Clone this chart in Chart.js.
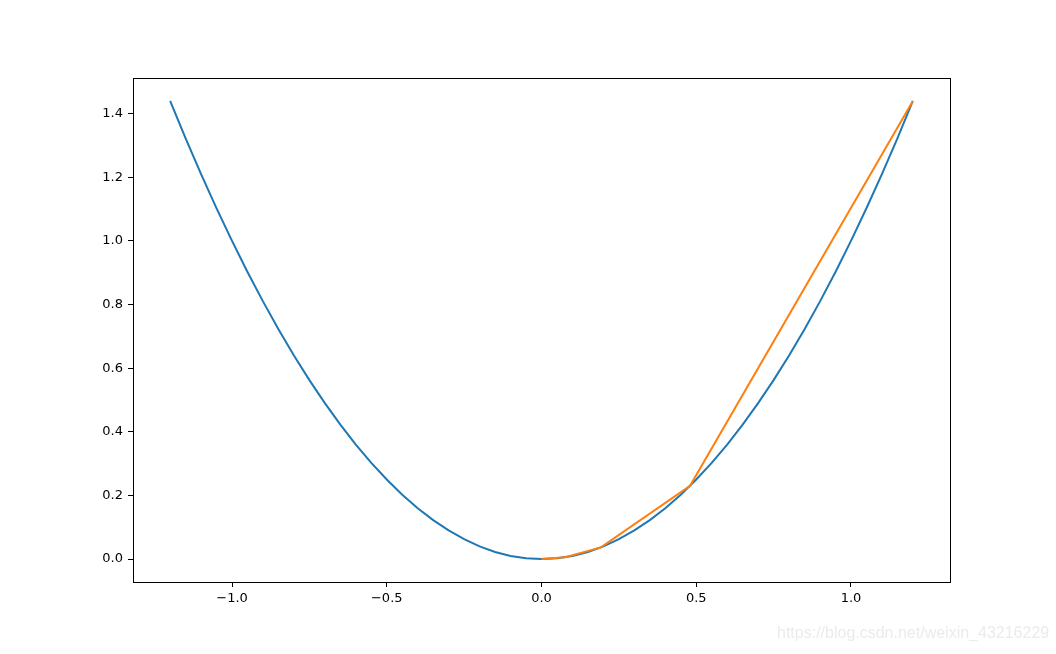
<!DOCTYPE html>
<html>
<head>
<meta charset="utf-8">
<script src="https://cdn.jsdelivr.net/npm/chart.js@4"></script>
<style>
  body { margin: 0; background: #fff; }
  #wrap { position: relative; width: 1056px; height: 654px; }
  #mark {
    position: absolute; left: 777px; top: 624px;
    font-family: "Liberation Sans", Arial, sans-serif; font-size: 16px;
    color: #ebebeb; white-space: nowrap;
  }
</style>
</head>
<body>
<div id="wrap">
  <canvas id="chart" width="1056" height="654"></canvas>
  <div id="mark">https://blog.csdn.net/weixin_43216229</div>
</div>
<script>
// blue curve (y = x squared look)
const curveX = [-1.2, -1.15, -1.1, -1.05, -1.0, -0.95, -0.9, -0.85, -0.8, -0.75, -0.7, -0.65, -0.6,
  -0.55, -0.5, -0.45, -0.4, -0.35, -0.3, -0.25, -0.2, -0.15, -0.1, -0.05, 0.0,
  0.05, 0.1, 0.15, 0.2, 0.25, 0.3, 0.35, 0.4, 0.45, 0.5, 0.55, 0.6, 0.65, 0.7,
  0.75, 0.8, 0.85, 0.9, 0.95, 1.0, 1.05, 1.1, 1.15, 1.2];
const curveY = [1.44, 1.3225, 1.21, 1.1025, 1.0, 0.9025, 0.81, 0.7225, 0.64, 0.5625, 0.49, 0.4225, 0.36,
  0.3025, 0.25, 0.2025, 0.16, 0.1225, 0.09, 0.0625, 0.04, 0.0225, 0.01, 0.0025, 0.0,
  0.0025, 0.01, 0.0225, 0.04, 0.0625, 0.09, 0.1225, 0.16, 0.2025, 0.25, 0.3025, 0.36, 0.4225, 0.49,
  0.5625, 0.64, 0.7225, 0.81, 0.9025, 1.0, 1.1025, 1.21, 1.3225, 1.44];

// orange polyline
const chordX = [0.0, 0.0768, 0.192, 0.48, 1.2];
const chordY = [0.0, 0.0059, 0.0369, 0.2304, 1.44];

const xTicks = [-1.0, -0.5, 0.0, 0.5, 1.0];
const yTicks = [0.0, 0.2, 0.4, 0.6, 0.8, 1.0, 1.2, 1.4];

const fmt = v => v.toFixed(1).replace('-', '\u2212');

const frame = {
  id: 'frame',
  afterDraw(chart) {
    const { ctx, chartArea: a } = chart;
    ctx.save();
    ctx.strokeStyle = '#000';
    ctx.lineWidth = 1;
    ctx.strokeRect(Math.round(a.left) + 0.5, Math.round(a.top) + 0.5,
      Math.round(a.right - a.left), Math.round(a.bottom - a.top));
    ctx.restore();
  }
};

const tickFont = { family: 'DejaVu Sans', size: 13 };

new Chart(document.getElementById('chart'), {
  type: 'scatter',
  data: {
    datasets: [
      {
        data: curveX.map((x, i) => ({ x, y: curveY[i] })),
        showLine: true, borderColor: '#1f77b4', borderWidth: 2,
        pointRadius: 0, tension: 0, order: 1
      },
      {
        data: chordX.map((x, i) => ({ x, y: chordY[i] })),
        showLine: true, borderColor: '#ff7f0e', borderWidth: 2,
        pointRadius: 0, tension: 0, order: 0
      }
    ]
  },
  options: {
    responsive: false,
    animation: false,
    layout: { padding: { left: 0, right: 106, top: 78, bottom: 0 } },
    plugins: { legend: { display: false }, tooltip: { enabled: false } },
    scales: {
      x: {
        type: 'linear', min: -1.32, max: 1.32,
        afterBuildTicks: s => { s.ticks = xTicks.map(v => ({ value: v })); },
        afterFit: s => { s.height = 72; },
        border: { display: false },
        grid: { drawOnChartArea: false, drawTicks: true, tickLength: 5, tickColor: '#000' },
        ticks: { color: '#000', font: tickFont, padding: 4, maxRotation: 0,
          callback: v => fmt(v) }
      },
      y: {
        type: 'linear', min: -0.072, max: 1.512,
        afterBuildTicks: s => { s.ticks = yTicks.map(v => ({ value: v })); },
        afterFit: s => { s.width = 133; },
        border: { display: false },
        grid: { drawOnChartArea: false, drawTicks: true, tickLength: 5, tickColor: '#000' },
        ticks: { color: '#000', font: tickFont, padding: 5,
          callback: v => fmt(v) }
      }
    }
  },
  plugins: [frame]
});
</script>
</body>
</html>
